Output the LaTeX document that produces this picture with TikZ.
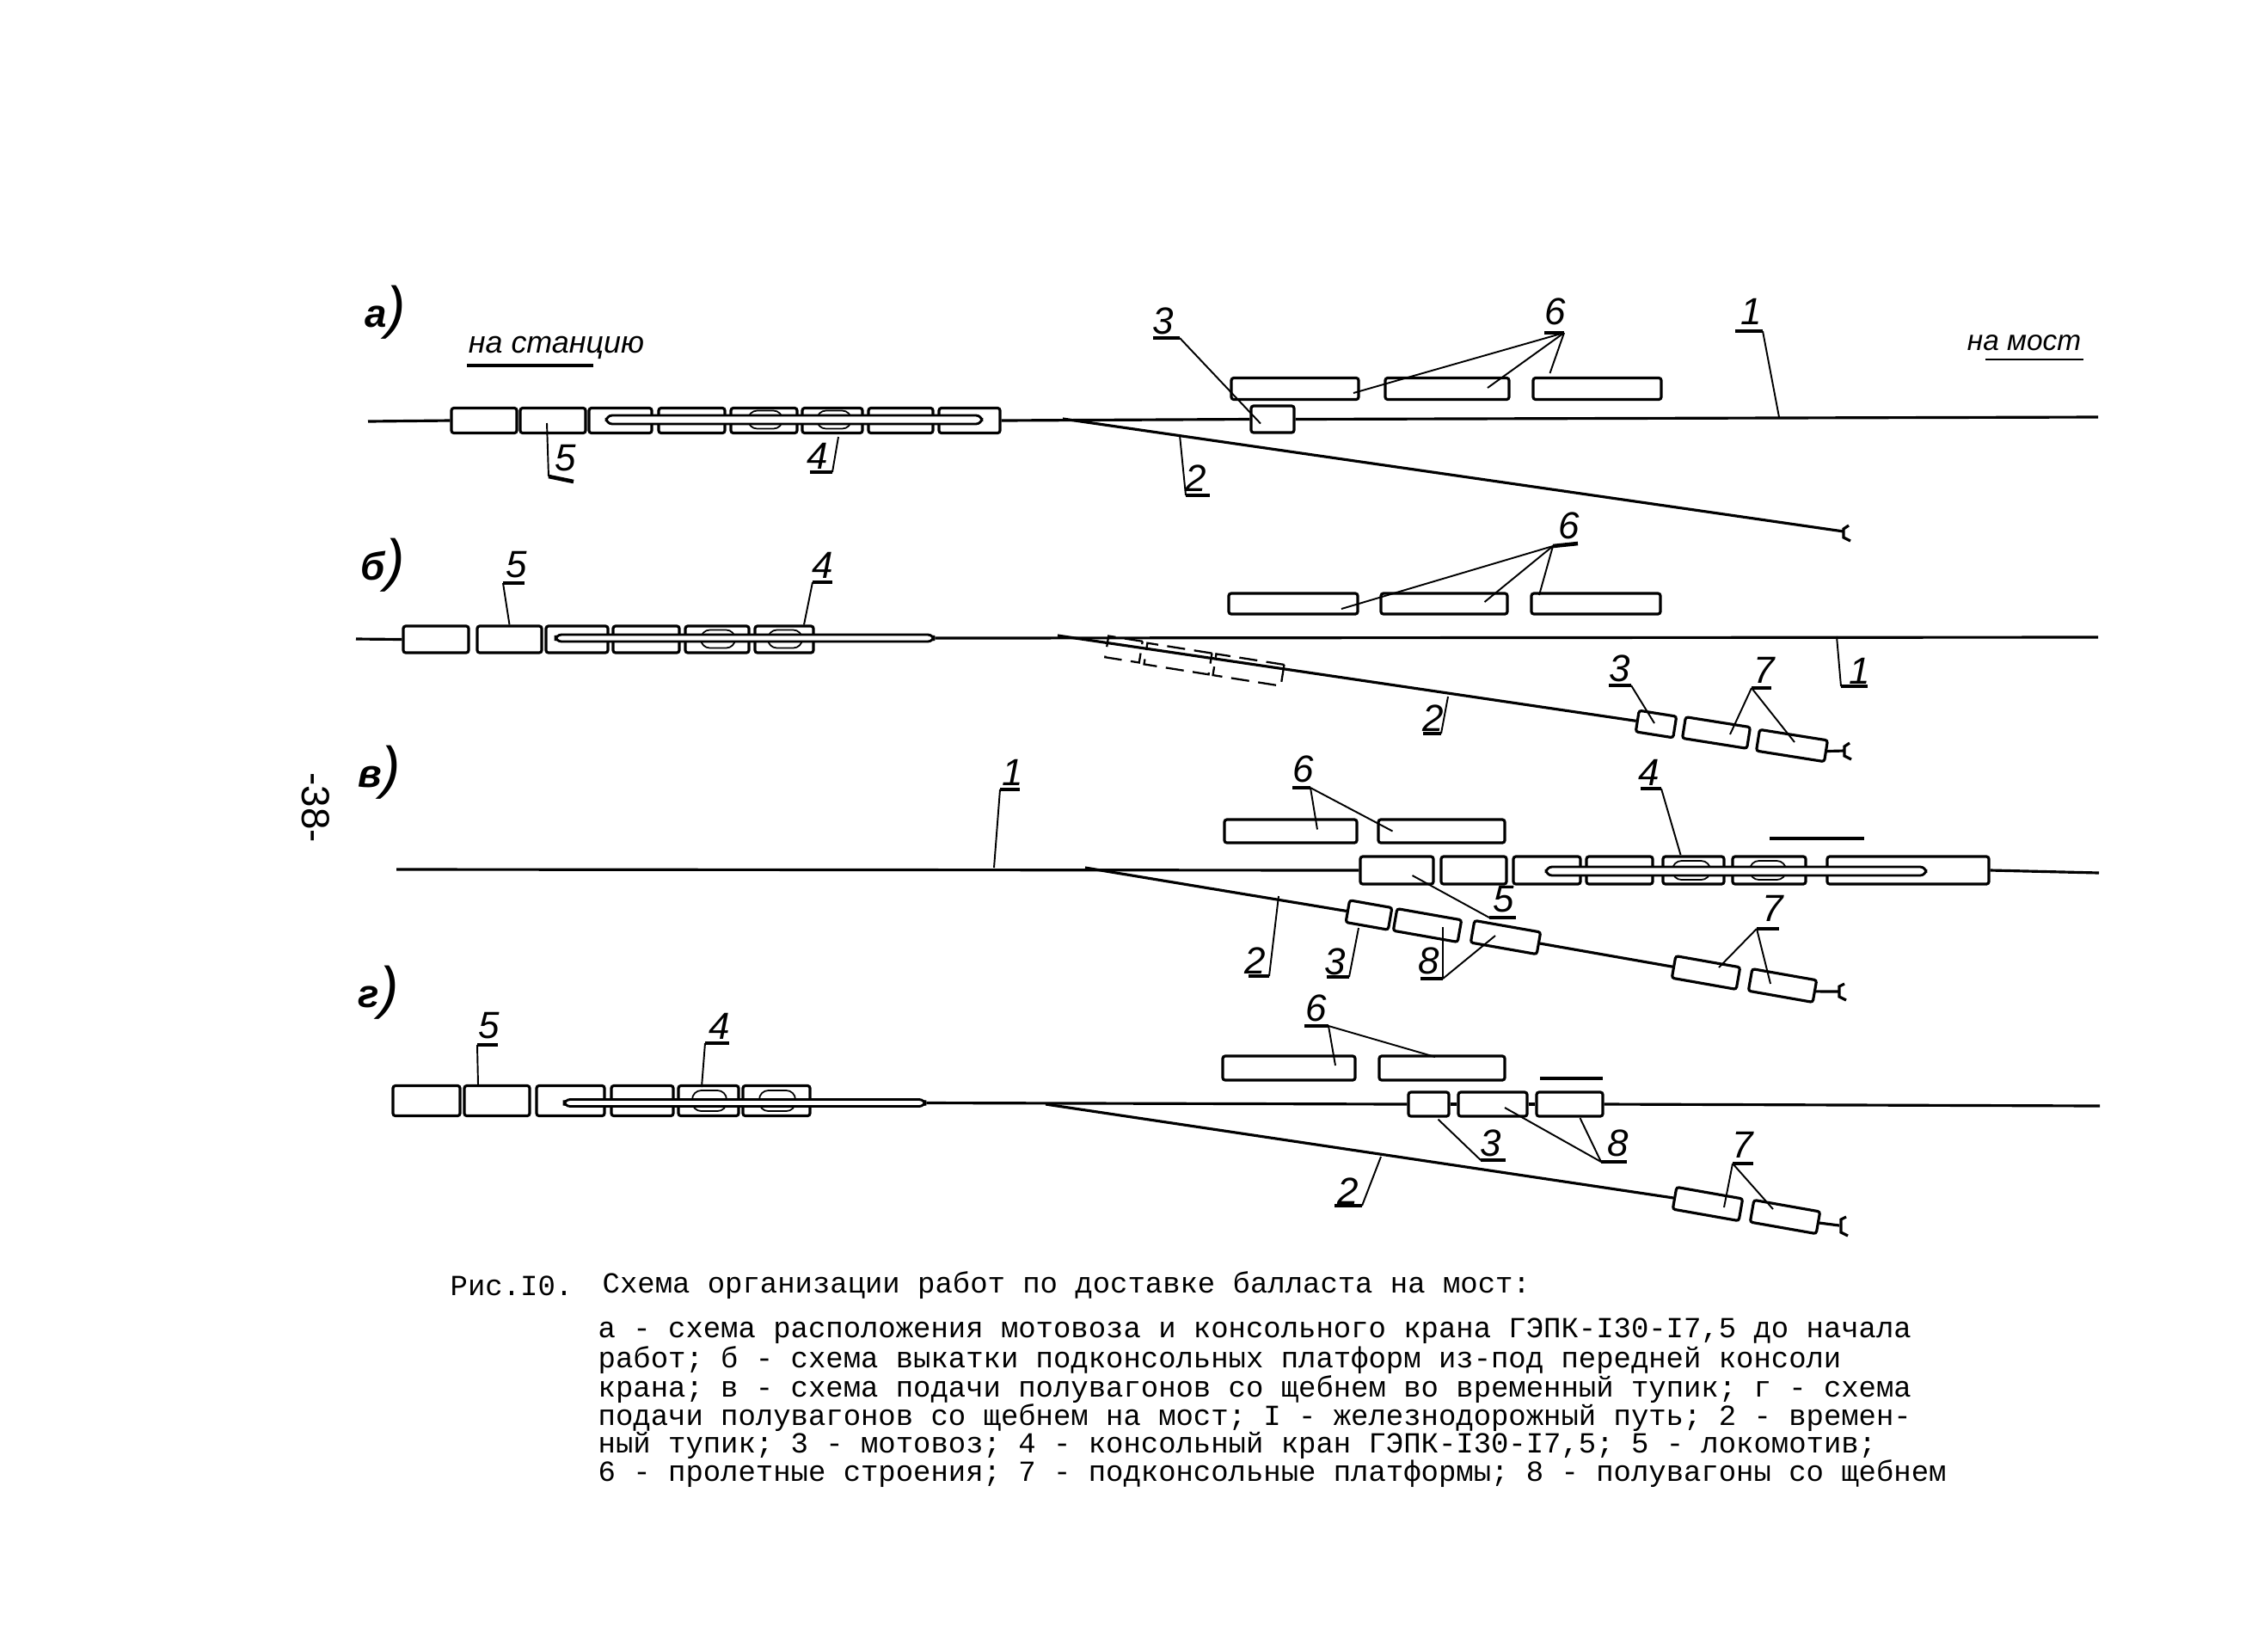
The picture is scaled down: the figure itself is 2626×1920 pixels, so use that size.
\documentclass[tikz,border=0pt]{standalone}
\usepackage{fontspec}
\newfontfamily\handfont{Liberation Sans}
\newfontfamily\typefont{Liberation Mono}
\usetikzlibrary{calc}

\begin{document}
\begin{tikzpicture}[x=0.01cm,y=-0.01cm,
  wagon/.style 2 args={draw, line width=.9pt, inner sep=0pt, rounded corners=.8pt,
    minimum width=#1*0.01cm, minimum height=#2*0.01cm},
  ghost/.style 2 args={draw, line width=.65pt, inner sep=0pt, dash pattern=on 6pt off 3pt,
    minimum width=#1*0.01cm, minimum height=#2*0.01cm},
  slot/.style 2 args={draw, fill=white, line width=.8pt, inner sep=0pt, rounded corners=2pt,
    minimum width=#1*0.01cm, minimum height=#2*0.01cm},
  trolley/.style 2 args={draw, line width=.5pt, inner sep=0pt, rounded corners=3pt,
    minimum width=#1*0.01cm, minimum height=#2*0.01cm},
  track/.style={line width=.9pt},
  leader/.style={line width=.55pt},
  tick/.style={line width=1.3pt},
  lbl/.style={font=\handfont\itshape\fontsize{12.5}{12.5}\selectfont, inner sep=0pt},
  hand/.style={font=\handfont\itshape\fontsize{10.2}{12}\selectfont, inner sep=0pt},
  panel/.style={font=\handfont\itshape\bfseries\fontsize{13}{13}\selectfont, inner sep=0pt},
  capt/.style={font=\typefont\fontsize{9.65}{11}\selectfont, anchor=west, inner sep=0pt}
]
\useasboundingbox (0,0) rectangle (2626,1920);

% page number
\node[font=\handfont\fontsize{13}{13}\selectfont, rotate=-90, inner sep=0pt] (pageno) at (367,939) {-38-};

% panel a
\node[panel] (alabel) at (448,363) {а{\fontsize{19}{19}\selectfont\mdseries)}};
\node[hand] (astation) at (647,404) {на станцию};
\coordinate (astationa) at (543,425);
\coordinate (astationb) at (690,425);
\draw[tick] (astationa) -- (astationb);
\node[hand,font=\handfont\itshape\fontsize{9.5}{12}\selectfont] (abridge) at (2354,399) {на мост};
\coordinate (abridgea) at (2309,418);
\coordinate (abridgeb) at (2423,418);
\draw[leader] (abridgea) -- (abridgeb);
\node[wagon={76}{29}] (a1) at (563,489) {};
\node[wagon={76}{29}] (a2) at (643,489) {};
\node[wagon={73}{29}] (a3) at (721.5,489) {};
\node[wagon={77}{29}] (a4) at (804.5,489) {};
\node[wagon={77}{29}] (a5) at (888.5,489) {};
\node[wagon={70}{29}] (a6) at (968,489) {};
\node[wagon={75}{29}] (a7) at (1047.5,489) {};
\node[wagon={71}{29}] (a8) at (1127.5,489) {};
\node[trolley={40}{21}] (atrolleya) at (890,488) {};
\node[trolley={40}{21}] (atrolleyb) at (970,488) {};
\node[slot={437}{10}] (aslot) at (923.5,488) {};
\node[wagon={50}{31}] (amoto) at (1480,487.5) {};
\node[wagon={148}{25}] (aspan1) at (1506,452) {};
\node[wagon={144}{25}] (aspan2) at (1683,452) {};
\node[wagon={149}{25}] (aspan3) at (1857.5,452) {};
\coordinate (aleft) at (428,490);
\coordinate (ajun) at (1236,487);
\coordinate (aright) at (2440,485);
\coordinate (astop) at (2144,618);
\draw[track] (aleft) -- (a1.west);
\draw[track] (a8.east) -- (amoto.west);
\draw[track] (amoto.east) -- (aright);
\draw[track] (ajun) -- (astop);
\draw[track] (astop) ++(6,-7) -- ++(-6,4) -- ++(0,10) -- ++(8,4);
\coordinate (a5h) at (638,554);
\draw[leader] ($(a2.center)+(-7,3)$) -- (a5h);
\draw[tick] (a5h) -- ++(29,6);
\node[lbl] (a5l) at (658,533) {5};
\coordinate (a4h) at (968,549);
\draw[leader] ($(a6.center)+(7,19)$) -- (a4h);
\draw[tick] (a4h) -- ++(-26,0);
\node[lbl] (a4l) at (951,530) {4};
\coordinate (a3h) at (1372,393);
\draw[leader] ($(amoto.center)+(-14,5)$) -- (a3h);
\draw[tick] (a3h) -- ++(-31,0);
\node[lbl] (a3l) at (1353,373) {3};
\coordinate (a6h) at (1819,387);
\draw[leader] ($(aspan1.center)+(68,5)$) -- (a6h);
\draw[leader] ($(aspan2.center)+(47,-1)$) -- (a6h);
\draw[leader] ($(aspan3.center)+(-55,-18)$) -- (a6h);
\draw[tick] (a6h) -- ++(-23,0);
\node[lbl] (a6l) at (1809,362) {6};
\coordinate (a1p) at (2069,485);
\coordinate (a1h) at (2050,385);
\draw[leader] (a1p) -- (a1h);
\draw[tick] (a1h) -- ++(-32,0);
\node[lbl] (a1l) at (2037,362) {1};
\coordinate (a2p) at (1372,506);
\coordinate (a2h) at (1379,576);
\draw[leader] (a2p) -- (a2h);
\draw[tick] (a2h) -- ++(28,0);
\node[lbl] (a2l) at (1391,556) {2};

% panel b
\node[panel] (blabel) at (445,657) {б{\fontsize{19}{19}\selectfont\mdseries)}};
\node[wagon={76}{31}] (b1) at (507,743.5) {};
\node[wagon={75}{31}] (b2) at (592.5,743.5) {};
\node[wagon={72}{31}] (b3) at (671,743.5) {};
\node[wagon={77}{31}] (b4) at (751.5,743.5) {};
\node[wagon={74}{31}] (b5) at (834,743.5) {};
\node[wagon={68}{31}] (b6) at (912,743.5) {};
\node[trolley={40}{21}] (btrolleya) at (835,743) {};
\node[trolley={40}{21}] (btrolleyb) at (913,743) {};
\node[slot={440}{8}] (bslot) at (866,742) {};
\node[wagon={150}{24}] (bspan1) at (1504,702) {};
\node[wagon={147}{24}] (bspan2) at (1679.5,702) {};
\node[wagon={150}{24}] (bspan3) at (1856,702) {};
\node[ghost={40}{25},rotate=-9] (bghost1) at (1307,755) {};
\node[ghost={76}{25},rotate=-9] (bghost2) at (1370,766) {};
\node[ghost={80}{25},rotate=-9] (bghost3) at (1452,779) {};
\node[wagon={44}{25},rotate=-9] (bmoto) at (1926,842) {};
\node[wagon={76}{25},rotate=-9] (bplat1) at (1996,852) {};
\node[wagon={80}{25},rotate=-9] (bplat2) at (2084,867) {};
\coordinate (bleft) at (414,743);
\coordinate (bjun) at (1230,739);
\coordinate (bright) at (2440,741);
\coordinate (bstop) at (2145,873);
\draw[track] (bleft) -- (b1.west);
\draw[track] (bslot.east) -- (bright);
\draw[track] (bjun) -- (bmoto.west);
\draw[track] (bplat2.east) -- (bstop);
\draw[track] (bstop) ++(6,-9) -- ++(-6,4) -- ++(0,11) -- ++(8,4);
\coordinate (b5h) at (585,678);
\draw[leader] (b2.north) -- (b5h);
\draw[tick] (b5h) -- ++(25,0);
\node[lbl] (b5l) at (601,657) {5};
\coordinate (b4h) at (945,677);
\draw[leader] ($(b6.center)+(23,-17)$) -- (b4h);
\draw[tick] (b4h) -- ++(23,0);
\node[lbl] (b4l) at (957,657) {4};
\coordinate (b6h) at (1806,635);
\draw[leader] ($(bspan1.center)+(56,6)$) -- (b6h);
\draw[leader] ($(bspan2.center)+(47,-2)$) -- (b6h);
\draw[leader] ($(bspan3.center)+(-66,-10)$) -- (b6h);
\draw[tick] (b6h) -- ++(29,-3);
\node[lbl] (b6l) at (1825,611) {6};
\coordinate (b1p) at (2136,740);
\coordinate (b1h) at (2141,798);
\draw[leader] (b1p) -- (b1h);
\draw[tick] (b1h) -- ++(31,0);
\node[lbl] (b1l) at (2163,780) {1};
\coordinate (b2p) at (1684,810);
\coordinate (b2h) at (1676,853);
\draw[leader] (b2p) -- (b2h);
\draw[tick] (b2h) -- ++(-21,0);
\node[lbl] (b2l) at (1667,835) {2};
\coordinate (b3h) at (1897,797);
\draw[leader] ($(bmoto.center)+(-2,-1)$) -- (b3h);
\draw[tick] (b3h) -- ++(-26,0);
\node[lbl] (b3l) at (1884,777) {3};
\coordinate (b7h) at (2037,800);
\draw[leader] ($(bplat1.center)+(16,2)$) -- (b7h);
\draw[leader] ($(bplat2.center)+(3,-4)$) -- (b7h);
\draw[tick] (b7h) -- ++(23,0);
\node[lbl] (b7l) at (2052,779) {7};

% panel c
\node[panel] (clabel) at (441,898) {в{\fontsize{19}{19}\selectfont\mdseries)}};
\node[wagon={154}{27}] (cspan1) at (1501,966.5) {};
\node[wagon={147}{27}] (cspan2) at (1676.5,966.5) {};
\node[wagon={85}{32}] (c1) at (1624.5,1012) {};
\node[wagon={76}{32}] (c2) at (1714,1012) {};
\node[wagon={78}{32}] (c3) at (1799,1012) {};
\node[wagon={77}{32}] (c4) at (1883.5,1012) {};
\node[wagon={71}{32}] (c5) at (1969.5,1012) {};
\node[wagon={85}{32}] (c6) at (2057.5,1012) {};
\node[wagon={188}{32}] (c7) at (2219,1012) {};
\node[trolley={44}{22}] (ctrolleya) at (1967,1012) {};
\node[trolley={42}{22}] (ctrolleyb) at (2056,1012) {};
\node[slot={442}{10}] (cslot) at (2019,1013) {};
\node[wagon={50}{26},rotate=-10] (cmoto) at (1592,1064) {};
\node[wagon={76}{26},rotate=-10] (cwag1) at (1660,1076) {};
\node[wagon={78}{26},rotate=-10] (cwag2) at (1751,1090) {};
\node[wagon={76}{26},rotate=-10] (cplat1) at (1984,1131) {};
\node[wagon={76}{26},rotate=-10] (cplat2) at (2073,1146) {};
\coordinate (cleft) at (461,1011);
\coordinate (cjun) at (1262,1009);
\coordinate (cright) at (2441,1015);
\coordinate (cstop) at (2139,1153);
\draw[track] (cleft) -- (c1.west);
\draw[track] (c7.east) -- (cright);
\draw[track] (cjun) -- (cmoto.west);
\draw[track] (cwag2.east) -- (cplat1.west);
\draw[track] (cplat2.east) -- (cstop);
\draw[track] (cstop) ++(6,-9) -- ++(-6,3) -- ++(0,12) -- ++(8,4);
\coordinate (carrowa) at (2058,975);
\coordinate (carrowb) at (2168,975);
\draw[tick] (carrowa) -- (carrowb);
\coordinate (c1p) at (1156,1009);
\coordinate (c1h) at (1163,918);
\draw[leader] (c1p) -- (c1h);
\draw[tick] (c1h) -- ++(23,0);
\node[lbl] (c1l) at (1178,898) {1};
\coordinate (c5h) at (1732,1067);
\draw[leader] ($(c1.center)+(18,6)$) -- (c5h);
\draw[tick] (c5h) -- ++(31,0);
\node[lbl] (c5l) at (1749,1046) {5};
\coordinate (c4h) at (1932,917);
\draw[leader] ($(c5.center)+(-15,-18)$) -- (c4h);
\draw[tick] (c4h) -- ++(-24,0);
\node[lbl] (c4l) at (1918,898) {4};
\coordinate (c6h) at (1524,916);
\draw[leader] ($(cspan1.center)+(31,-2)$) -- (c6h);
\draw[leader] ($(cspan2.center)+(-57,0)$) -- (c6h);
\draw[tick] (c6h) -- ++(-21,0);
\node[lbl] (c6l) at (1516,894) {6};
\coordinate (c7h) at (2043,1080);
\draw[leader] ($(cplat1.center)+(15,-6)$) -- (c7h);
\draw[leader] ($(cplat2.center)+(-14,-2)$) -- (c7h);
\draw[tick] (c7h) -- ++(26,0);
\node[lbl] (c7l) at (2062,1056) {7};
\coordinate (c8h) at (1678,1138);
\draw[leader] ($(cwag1.center)+(18,2)$) -- (c8h);
\draw[leader] ($(cwag2.center)+(-12,-2)$) -- (c8h);
\draw[tick] (c8h) -- ++(-26,0);
\node[lbl] (c8l) at (1662,1117) {8};
\coordinate (c3h) at (1569,1136);
\draw[leader] ($(cmoto.center)+(-12,15)$) -- (c3h);
\draw[tick] (c3h) -- ++(-26,0);
\node[lbl] (c3l) at (1553,1118) {3};
\coordinate (c2p) at (1487,1042);
\coordinate (c2h) at (1476,1135);
\draw[leader] (c2p) -- (c2h);
\draw[tick] (c2h) -- ++(-24,0);
\node[lbl] (c2l) at (1460,1117) {2};

% panel d
\node[panel] (dlabel) at (440,1154) {г{\fontsize{19}{19}\selectfont\mdseries)}};
\node[wagon={78}{35}] (d1) at (496,1280) {};
\node[wagon={76}{35}] (d2) at (578,1280) {};
\node[wagon={79}{35}] (d3) at (663.5,1280) {};
\node[wagon={72}{35}] (d4) at (747,1280) {};
\node[wagon={70}{35}] (d5) at (824,1280) {};
\node[wagon={78}{35}] (d6) at (903,1280) {};
\node[trolley={40}{24}] (dtrolleya) at (825,1280) {};
\node[trolley={42}{24}] (dtrolleyb) at (904,1280) {};
\node[slot={420}{8}] (dslot) at (866,1282.5) {};
\node[wagon={154}{28}] (dspan1) at (1499,1242) {};
\node[wagon={146}{28}] (dspan2) at (1677,1242) {};
\node[wagon={47}{28}] (dmoto) at (1661.5,1284) {};
\node[wagon={80}{28}] (dwag1) at (1736,1284) {};
\node[wagon={77}{28}] (dwag2) at (1825.5,1284) {};
\node[wagon={78}{26},rotate=-10] (dplat1) at (1986,1400) {};
\node[wagon={78}{26},rotate=-10] (dplat2) at (2076,1415) {};
\coordinate (djun) at (1216,1284);
\coordinate (dright) at (2442,1286);
\coordinate (dstop) at (2139,1425);
\draw[track] (dslot.east) -- (dmoto.west);
\draw[track] (dmoto.east) -- (dwag1.west);
\draw[track] (dwag1.east) -- (dwag2.west);
\draw[track] (dwag2.east) -- (dright);
\draw[track] (djun) -- (dplat1.west);
\draw[track] (dplat2.east) -- (dstop);
\draw[track] (dstop) ++(8,-10) -- ++(-6,3) -- ++(0,15) -- ++(8,4);
\coordinate (darrowa) at (1791,1254);
\coordinate (darrowb) at (1864,1254);
\draw[tick] (darrowa) -- (darrowb);
\coordinate (d5h) at (555,1215);
\draw[leader] (d2.north) ++(-22,0) -- (d5h);
\draw[tick] (d5h) -- ++(24,0);
\node[lbl] (d5l) at (569,1193) {5};
\coordinate (d4h) at (820,1213);
\draw[leader] ($(d5.center)+(-8,-16)$) -- (d4h);
\draw[tick] (d4h) -- ++(28,0);
\node[lbl] (d4l) at (837,1193) {4};
\coordinate (d6h) at (1545,1193);
\draw[leader] ($(dspan1.center)+(54,-3)$) -- (d6h);
\draw[leader] ($(dspan2.center)+(-8,-13)$) -- (d6h);
\draw[tick] (d6h) -- ++(-28,0);
\node[lbl] (d6l) at (1531,1172) {6};
\coordinate (d3h) at (1722,1349);
\draw[leader] (dmoto.south) ++(11,2) -- (d3h);
\draw[tick] (d3h) -- ++(29,0);
\node[lbl] (d3l) at (1734,1329) {3};
\coordinate (d8h) at (1862,1351);
\draw[leader] ($(dwag1.center)+(14,4)$) -- (d8h);
\draw[leader] ($(dwag2.center)+(12,16)$) -- (d8h);
\draw[tick] (d8h) -- ++(30,0);
\node[lbl] (d8l) at (1882,1329) {8};
\coordinate (d7h) at (2015,1353);
\draw[leader] ($(dplat1.center)+(19,4)$) -- (d7h);
\draw[leader] ($(dplat2.center)+(-14,-9)$) -- (d7h);
\draw[tick] (d7h) -- ++(24,0);
\node[lbl] (d7l) at (2027,1331) {7};
\coordinate (d2p) at (1606,1345);
\coordinate (d2h) at (1584,1402);
\draw[leader] (d2p) -- (d2h);
\draw[tick] (d2h) -- ++(-32,0);
\node[lbl] (d2l) at (1568,1385) {2};

% caption
\node[capt] (fig) at (523,1495) {Рис.I0.};
\node[capt] (title) at (700,1495) {Схема организации работ по доставке балласта на мост:};
\node[capt] (cap1) at (695,1548) {а - схема расположения мотовоза и консольного крана ГЭПК-I30-I7,5 до начала};
\node[capt] (cap2) at (695,1582) {работ; б - схема выкатки подконсольных платформ из-под передней консоли};
\node[capt] (cap3) at (695,1616) {крана; в - схема подачи полувагонов со щебнем во временный тупик; г - схема};
\node[capt] (cap4) at (695,1649) {подачи полувагонов со щебнем на мост; I - железнодорожный путь; 2 - времен-};
\node[capt] (cap5) at (695,1681) {ный тупик; 3 - мотовоз; 4 - консольный кран ГЭПК-I30-I7,5; 5 - локомотив;};
\node[capt] (cap6) at (695,1714) {6 - пролетные строения; 7 - подконсольные платформы; 8 - полувагоны со щебнем};
\end{tikzpicture}
\end{document}
